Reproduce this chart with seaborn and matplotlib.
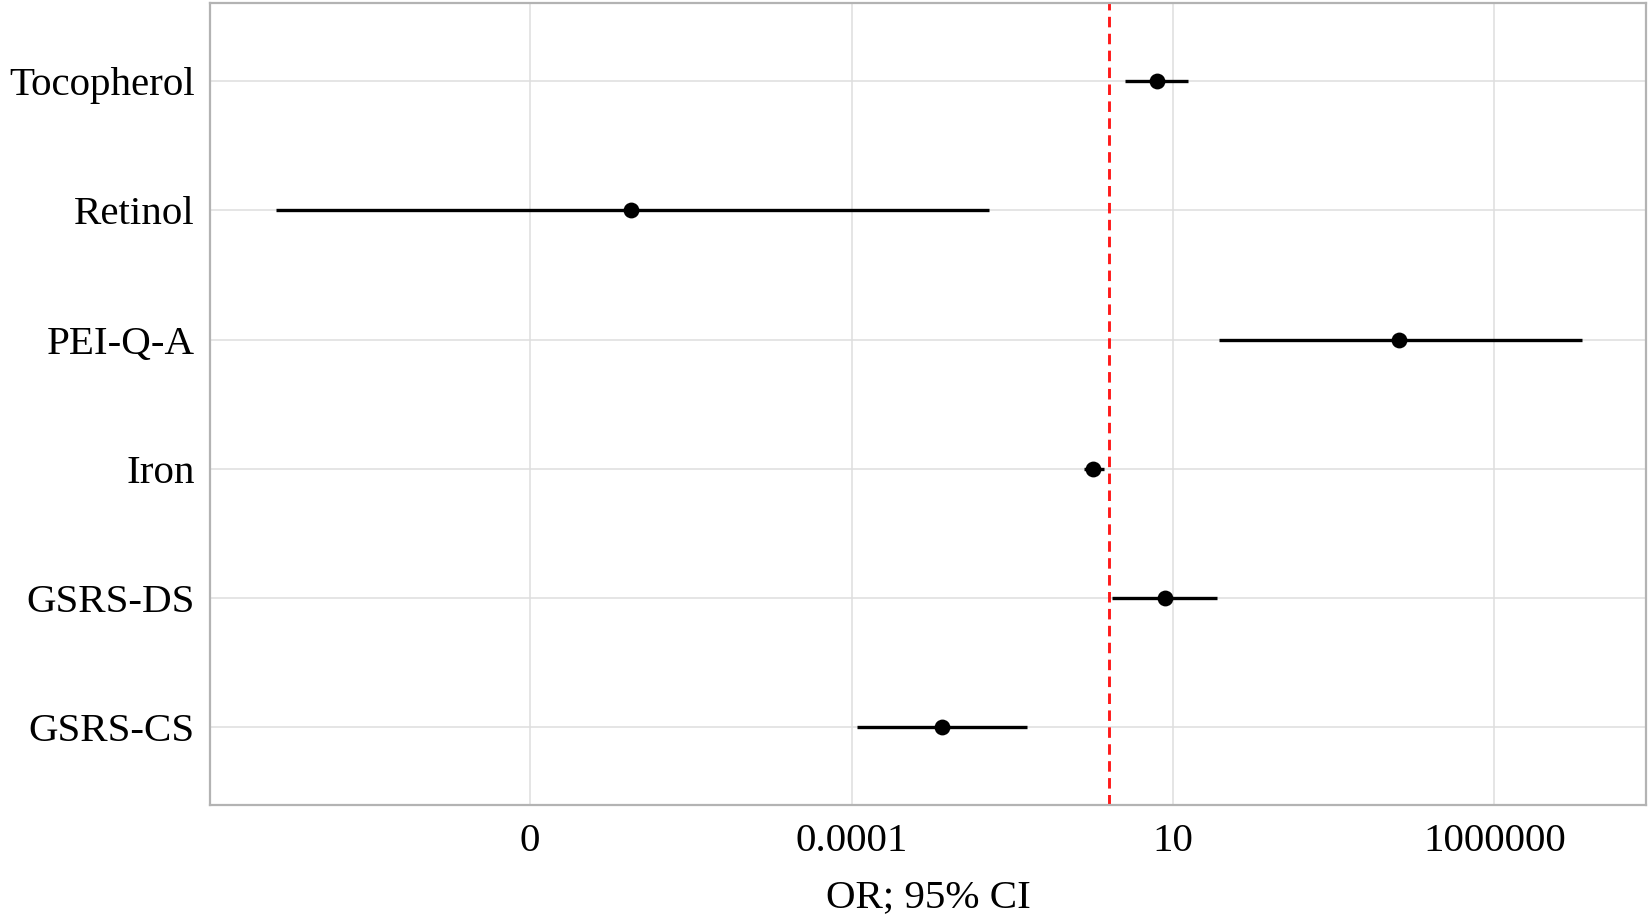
import numpy as np
import pandas as pd
import matplotlib
matplotlib.use("Agg")
import matplotlib.pyplot as plt
import seaborn as sns

# Forest plot values (odds ratios, log10)
variables = ["Tocopherol", "Retinol", "PEI-Q-A", "Iron", "GSRS-DS", "GSRS-CS"]
log_or = [0.75, -7.43, 4.52, -0.25, 0.88, -2.59]
log_lower = [0.25, -12.95, 1.71, -0.39, 0.05, -3.92]
log_upper = [1.23, -1.86, 7.37, -0.08, 1.68, -1.27]

x_breaks = [1e-9, 1e-4, 1e1, 1e6]
x_labels = ["0", "0.0001", "10", "1000000"]

df = pd.DataFrame({
    "variable": variables,
    "OR": np.power(10.0, log_or),
    "lower": np.power(10.0, log_lower),
    "upper": np.power(10.0, log_upper),
})

sns.set_style("whitegrid")
plt.rcParams["font.family"] = ["Liberation Serif", "DejaVu Serif"]

fig = plt.figure(figsize=(16.52, 9.19), dpi=100)
ax = fig.add_axes([0.1271, 0.124, 0.8693, 0.8722])

ax.set_xscale("log")

# confidence intervals
ax.hlines(y=df["variable"], xmin=df["lower"], xmax=df["upper"],
          color="black", linewidth=2.4, zorder=3)

# point estimates
sns.scatterplot(data=df, x="OR", y="variable", ax=ax, color="black",
                s=130, edgecolor="black", linewidth=0, zorder=4)

# reference line at OR = 1
ax.axvline(1, color="#ff1a1a", linewidth=2.1, linestyle=(0, (3.6, 2.2)), zorder=2)

ax.set_xlim(10 ** -13.98, 10 ** 8.36)
ax.set_ylim(len(variables) - 0.4, -0.6)

ax.set_xticks(x_breaks)
ax.set_xticklabels(x_labels)
ax.xaxis.set_minor_locator(matplotlib.ticker.NullLocator())

ax.grid(True, which="major", color="#dedede", linewidth=1.1)
ax.set_axisbelow(True)

for side in ["left", "right", "top", "bottom"]:
    ax.spines[side].set_visible(True)
    ax.spines[side].set_color("#b3b3b3")
    ax.spines[side].set_linewidth(1.6)

ax.tick_params(axis="both", which="major", length=5, width=1.1, color="#b3b3b3",
               labelsize=29.5, labelcolor="black")
ax.tick_params(axis="y", pad=6)
ax.tick_params(axis="x", pad=8)

ax.set_xlabel("OR; 95% CI", fontsize=29.5, labelpad=14, color="black")
ax.set_ylabel("")

fig.savefig("out.png", dpi=100)
